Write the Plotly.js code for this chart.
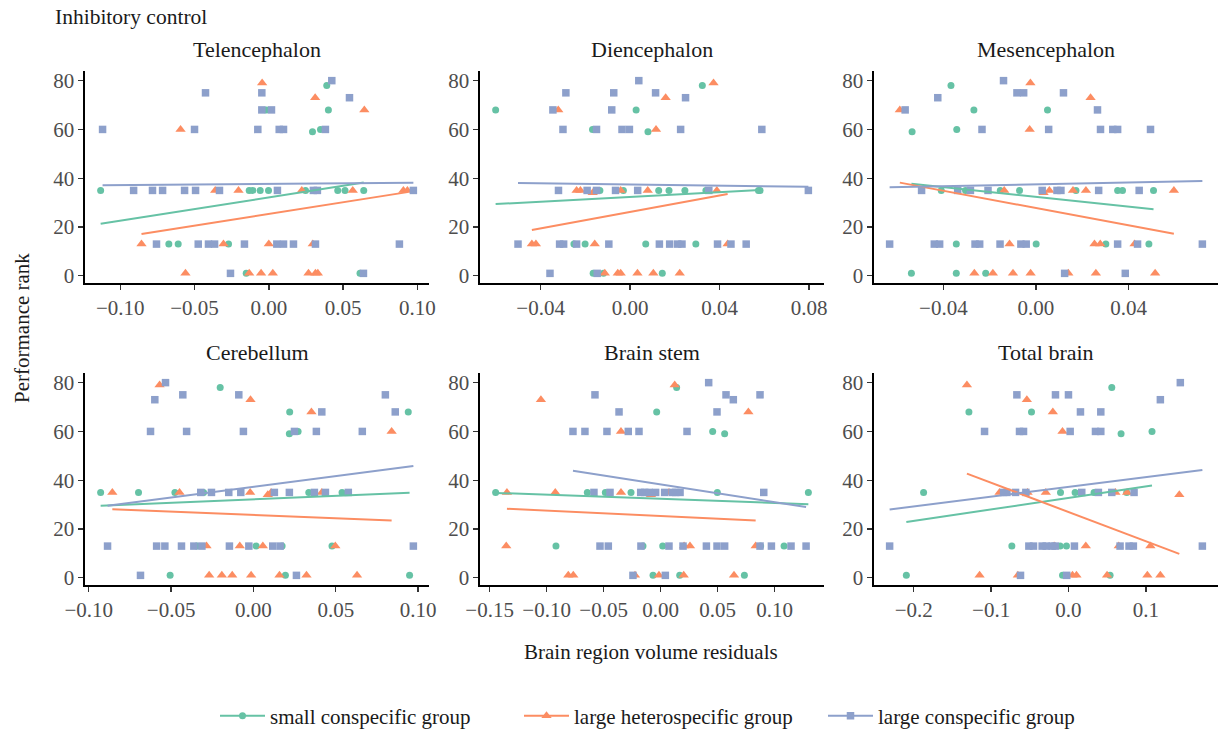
<!DOCTYPE html>
<html>
<head>
<meta charset="utf-8">
<script src="https://cdn.plot.ly/plotly-3.0.1.min.js"></script>
<style>html,body{margin:0;padding:0;background:#fff;}#chart{width:1220px;height:731px;}</style>
</head>
<body>
<div id="chart"></div>
<script>
// ---------------- DATA ----------------
const panelNames = ["Telencephalon", "Diencephalon", "Mesencephalon", "Cerebellum", "Brain stem", "Total brain"];
const groupNames = ["small conspecific group", "large heterospecific group", "large conspecific group"];

// Telencephalon
const tel_small_x = [0.0390, 0.0401, 0.0294, 0.0348, -0.0018, -0.1132, -0.0132, -0.0108, -0.0058, -0.0002, 0.0247, 0.0464, 0.0513, 0.0639, -0.0673, -0.0610, -0.0271, -0.0152, 0.0614];
const tel_small_y = [78, 68, 59, 60, 68, 35, 35, 35, 35, 35, 35, 35, 35, 35, 13, 13, 13, 1, 1];
const tel_het_x = [-0.0045, 0.0312, 0.0643, -0.0594, -0.0361, -0.0204, 0.0222, 0.0565, 0.0906, 0.0933, -0.0857, -0.0305, 0.0000, 0.0296, -0.0561, -0.0132, -0.0052, 0.0027, 0.0267, 0.0314, 0.0330];
const tel_het_y = [79, 73, 68, 60, 35, 35, 35, 35, 35, 35, 13, 13, 13, 13, 1, 1, 1, 1, 1, 1, 1];
const tel_large_x = [-0.1119, -0.0426, -0.0047, -0.0047, 0.0018, -0.0500, -0.0074, 0.0070, 0.0099, 0.0381, 0.0424, 0.0543,
  -0.0910, -0.0783, -0.0715, -0.0567, -0.0493, -0.0332, 0.0058, 0.0300, 0.0327, 0.0973,
  -0.0756, -0.0475, -0.0406, -0.0365, -0.0164, 0.0054, 0.0099, 0.0166, 0.0314, 0.0879,
  -0.0258, 0.0637];
const tel_large_y = [60, 75, 75, 68, 68, 60, 60, 60, 60, 60, 80, 73,
  35, 35, 35, 35, 35, 35, 35, 35, 35, 35,
  13, 13, 13, 13, 13, 13, 13, 13, 13, 13,
  1, 1];
const tel_small_fit_x = [-0.1132, 0.0639], tel_small_fit_y = [21.3, 38.2];
const tel_het_fit_x = [-0.0857, 0.0933], tel_het_fit_y = [17.1, 34.3];
const tel_large_fit_x = [-0.1119, 0.0973], tel_large_fit_y = [37.1, 38.1];

// Diencephalon
const dien_small_x = [0.0323, -0.0601, 0.0027, -0.0168, 0.0080, -0.0135, -0.0030, 0.0128, 0.0174, 0.0245, 0.0339, 0.0574, 0.0581, -0.0251, -0.0201, 0.0070, 0.0294, -0.0165, -0.0119, 0.0144];
const dien_small_y = [78, 68, 68, 60, 59, 35, 35, 35, 35, 35, 35, 35, 35, 13, 13, 13, 13, 1, 1, 1];
const dien_het_x = [0.0373, 0.0159, -0.0321, 0.0116, -0.0239, -0.0222, -0.0167, -0.0042, 0.0079, 0.0388, -0.0439, -0.0421, -0.0158, 0.0436, -0.0113, -0.0055, -0.0042, 0.0033, 0.0104, 0.0222];
const dien_het_y = [79, 73, 68, 60, 35, 35, 34, 35, 35, 35, 13, 13, 13, 13, 1, 1, 1, 1, 1, 1];
const dien_large_x = [0.0039, -0.0287, -0.0073, 0.0114, 0.0248, -0.0345, -0.0082, -0.0300, -0.0150, -0.0036, -0.0003, 0.0226, 0.0589,
  -0.0320, -0.0192, -0.0150, -0.0065, 0.0034, 0.0352, 0.0797,
  -0.0501, -0.0315, -0.0297, -0.0239, -0.0095, 0.0131, 0.0177, 0.0213, 0.0232, 0.0391, 0.0451, 0.0519,
  -0.0358, -0.0147];
const dien_large_y = [80, 75, 75, 75, 73, 68, 68, 60, 60, 60, 60, 60, 60,
  35, 35, 35, 35, 35, 35, 35,
  13, 13, 13, 13, 13, 13, 13, 13, 13, 13, 13, 13,
  1, 1];
const dien_small_fit_x = [-0.0601, 0.0581], dien_small_fit_y = [29.4, 35.2];
const dien_het_fit_x = [-0.0439, 0.0436], dien_het_fit_y = [18.8, 33.5];
const dien_large_fit_x = [-0.0501, 0.0797], dien_large_fit_y = [38.0, 36.5];

// Mesencephalon
const mes_small_x = [-0.0367, -0.0268, 0.0050, -0.0535, -0.0342, -0.0409, -0.0304, -0.0154, -0.0071, 0.0173, 0.0353, 0.0374, 0.0508, -0.0344, 0.0001, 0.0302, 0.0488, -0.0538, -0.0344, -0.0217];
const mes_small_y = [78, 68, 68, 59, 60, 35, 35, 35, 35, 35, 35, 35, 35, 13, 13, 13, 13, 1, 1, 1];
const mes_het_x = [-0.0024, 0.0236, -0.0588, -0.0027, -0.0137, 0.0033, 0.0058, 0.0160, 0.0216, 0.0596, -0.0114, 0.0253, 0.0278, 0.0426, -0.0266, -0.0186, -0.0099, -0.0023, 0.0140, 0.0259, 0.0515];
const mes_het_y = [79, 73, 68, 60, 35, 34, 35, 35, 35, 35, 13, 13, 13, 13, 1, 1, 1, 1, 1, 1, 1];
const mes_large_x = [-0.0140, -0.0424, -0.0082, -0.0053, 0.0119, -0.0565, 0.0266, -0.0233, 0.0055, 0.0279, 0.0332, 0.0353, 0.0495,
  -0.0494, -0.0338, -0.0283, -0.0207, 0.0027, 0.0091, 0.0108, 0.0271, 0.0446,
  -0.0632, -0.0439, -0.0416, -0.0263, -0.0243, -0.0155, -0.0065, -0.0042, 0.0353, 0.0439, 0.0719,
  0.0124, 0.0386];
const mes_large_y = [80, 73, 75, 75, 75, 68, 68, 60, 60, 60, 60, 60, 60,
  35, 35, 35, 35, 35, 35, 35, 35, 35,
  13, 13, 13, 13, 13, 13, 13, 13, 13, 13, 13,
  1, 1];
const mes_small_fit_x = [-0.0538, 0.0508], mes_small_fit_y = [37.7, 27.3];
const mes_het_fit_x = [-0.0588, 0.0596], mes_het_fit_y = [38.2, 17.2];
const mes_large_fit_x = [-0.0632, 0.0719], mes_large_fit_y = [36.3, 38.9];

// Cerebellum
const cer_small_x = [-0.0202, 0.0220, 0.0940, 0.0218, 0.0271, -0.0928, -0.0698, -0.0477, -0.0303, 0.0336, 0.0538, -0.0344, 0.0016, 0.0174, 0.0477, -0.0506, 0.0194, 0.0948];
const cer_small_y = [78, 68, 68, 59, 60, 35, 35, 35, 35, 35, 35, 13, 13, 13, 13, 1, 1, 1];
const cer_het_x = [-0.0570, -0.0018, 0.0352, 0.0839, -0.0857, -0.0449, -0.0020, 0.0087, 0.0107, 0.0415, -0.0285, -0.0083, 0.0057, 0.0497, -0.0269, -0.0192, -0.0129, -0.0014, 0.0158, 0.0322, 0.0629];
const cer_het_y = [79, 73, 68, 60, 35, 35, 35, 34, 35, 35, 13, 13, 13, 13, 1, 1, 1, 1, 1, 1, 1];
const cer_large_x = [-0.0534, -0.0599, -0.0429, -0.0089, 0.0801, 0.0415, 0.0861, -0.0625, -0.0406, -0.0061, 0.0249, 0.0382, 0.0661,
  -0.0320, -0.0255, -0.0150, -0.0077, 0.0127, 0.0218, 0.0370, 0.0437, 0.0576,
  -0.0886, -0.0588, -0.0538, -0.0437, -0.0362, -0.0313, -0.0146, -0.0028, 0.0117, 0.0162, 0.0971,
  -0.0686, 0.0261];
const cer_large_y = [80, 73, 75, 75, 75, 68, 68, 60, 60, 60, 60, 60, 60,
  35, 35, 35, 35, 35, 35, 35, 35, 35,
  13, 13, 13, 13, 13, 13, 13, 13, 13, 13, 13,
  1, 1];
const cer_small_fit_x = [-0.0928, 0.0948], cer_small_fit_y = [29.5, 34.9];
const cer_het_fit_x = [-0.0857, 0.0839], cer_het_fit_y = [28.1, 23.5];
const cer_large_fit_x = [-0.0886, 0.0971], cer_large_fit_y = [29.5, 45.8];

// Brain stem
const stem_small_x = [0.0140, -0.0035, 0.0456, 0.0561, -0.1447, -0.0643, -0.0485, -0.0260, 0.0497, 0.1295, -0.0918, -0.0155, 0.0018, 0.0877, 0.1082, -0.0067, 0.0167, 0.0734];
const stem_small_y = [78, 68, 60, 59, 35, 35, 35, 35, 35, 35, 13, 13, 13, 13, 13, 1, 1, 1];
const stem_het_x = [0.0123, -0.1050, 0.0769, -0.0348, -0.1348, -0.0924, -0.0348, -0.0085, 0.0073, -0.1354, 0.0205, 0.0257, 0.0833, -0.0810, -0.0766, -0.0225, -0.0015, 0.0202, 0.0643];
const stem_het_y = [79, 73, 68, 60, 35, 35, 35, 34, 35, 13, 13, 13, 13, 1, 1, 1, 1, 1, 1];
const stem_large_x = [0.0421, -0.0576, 0.0573, 0.0871, 0.0637, -0.0365, 0.0494, -0.0769, -0.0664, -0.0471, -0.0284, -0.0190, 0.0231,
  -0.0585, -0.0444, -0.0175, -0.0140, -0.0102, -0.0044, 0.0035, 0.0102, 0.0132, 0.0170, 0.0904,
  -0.0532, -0.0459, -0.0173, 0.0073, 0.0196, 0.0401, 0.0494, 0.0561, 0.0871, 0.0971, 0.1143, 0.1275,
  -0.0243, 0.0041];
const stem_large_y = [80, 75, 75, 75, 73, 68, 68, 60, 60, 60, 60, 60, 60,
  35, 35, 35, 35, 35, 35, 35, 35, 35, 35, 35,
  13, 13, 13, 13, 13, 13, 13, 13, 13, 13, 13, 13,
  1, 1];
const stem_small_fit_x = [-0.1447, 0.1295], stem_small_fit_y = [34.8, 30.2];
const stem_het_fit_x = [-0.1348, 0.0833], stem_het_fit_y = [28.3, 23.5];
const stem_large_fit_x = [-0.0769, 0.1275], stem_large_fit_y = [43.9, 29.0];

// Total brain
const tot_small_x = [0.0560, -0.1287, -0.0478, 0.0680, 0.1080, -0.1873, -0.0103, 0.0086, 0.0331, 0.0753, -0.0732, -0.0108, -0.0026, -0.2096, -0.0077, 0.0538];
const tot_small_y = [78, 68, 68, 59, 60, 35, 35, 35, 35, 35, 13, 13, 13, 1, 1, 1];
const tot_het_x = [-0.1313, -0.0538, -0.0202, -0.0077, -0.0891, -0.0529, -0.0293, 0.0607, 0.0758, 0.1433, -0.0185, 0.0224, 0.0650, 0.1059, -0.1149, -0.0654, 0.0052, 0.0103, 0.0499, 0.1020, 0.1188];
const tot_het_y = [79, 73, 68, 60, 35, 35, 35, 35, 35, 34, 13, 13, 13, 13, 1, 1, 1, 1, 1, 1, 1];
const tot_large_x = [0.1446, -0.0667, -0.0168, 0.0000, 0.1188, 0.0155, 0.0418, -0.1085, -0.0633, -0.0581, 0.0022, 0.0349, 0.0418,
  -0.0839, -0.0796, -0.0684, -0.0551, 0.0172, 0.0387, 0.0560, 0.0848,
  -0.2312, -0.0512, -0.0452, -0.0340, -0.0288, -0.0211, -0.0172, 0.0077, 0.0667, 0.0783, 0.0839, 0.1731,
  -0.0620, -0.0022];
const tot_large_y = [80, 75, 75, 75, 73, 68, 68, 60, 60, 60, 60, 60, 60,
  35, 35, 35, 35, 35, 35, 35, 35,
  13, 13, 13, 13, 13, 13, 13, 13, 13, 13, 13, 13,
  1, 1];
const tot_small_fit_x = [-0.2096, 0.1080], tot_small_fit_y = [22.9, 37.8];
const tot_het_fit_x = [-0.1313, 0.1433], tot_het_fit_y = [42.7, 9.8];
const tot_large_fit_x = [-0.2312, 0.1731], tot_large_fit_y = [28.0, 44.2];

// Tick labels per panel
const tel_ticks = [-0.10, -0.05, 0.00, 0.05, 0.10];
const dien_ticks = [-0.04, 0.00, 0.04, 0.08];
const mes_ticks = [-0.04, 0.00, 0.04];
const cer_ticks = [-0.10, -0.05, 0.00, 0.05, 0.10];
const stem_ticks = [-0.15, -0.10, -0.05, 0.00, 0.05, 0.10];
const tot_ticks = [-0.2, -0.1, 0.0, 0.1];
const yTicks = [0, 20, 40, 60, 80];

// ---------------- STYLE ----------------
const colors = ["#66c2a5", "#fc8d62", "#8da0cb"];
const symbols = ["circle", "triangle-up", "square"];
const msizes = [7, 9, 7.5];
const FONT = "'Liberation Serif', 'Times New Roman', 'DejaVu Serif', serif";
const W = 1220, H = 731;

const panels = [
  {pts: [[tel_small_x, tel_small_y], [tel_het_x, tel_het_y], [tel_large_x, tel_large_y]],
   fit: [[tel_small_fit_x, tel_small_fit_y], [tel_het_fit_x, tel_het_fit_y], [tel_large_fit_x, tel_large_fit_y]], ticks: tel_ticks, fmt: 2},
  {pts: [[dien_small_x, dien_small_y], [dien_het_x, dien_het_y], [dien_large_x, dien_large_y]],
   fit: [[dien_small_fit_x, dien_small_fit_y], [dien_het_fit_x, dien_het_fit_y], [dien_large_fit_x, dien_large_fit_y]], ticks: dien_ticks, fmt: 2},
  {pts: [[mes_small_x, mes_small_y], [mes_het_x, mes_het_y], [mes_large_x, mes_large_y]],
   fit: [[mes_small_fit_x, mes_small_fit_y], [mes_het_fit_x, mes_het_fit_y], [mes_large_fit_x, mes_large_fit_y]], ticks: mes_ticks, fmt: 2},
  {pts: [[cer_small_x, cer_small_y], [cer_het_x, cer_het_y], [cer_large_x, cer_large_y]],
   fit: [[cer_small_fit_x, cer_small_fit_y], [cer_het_fit_x, cer_het_fit_y], [cer_large_fit_x, cer_large_fit_y]], ticks: cer_ticks, fmt: 2},
  {pts: [[stem_small_x, stem_small_y], [stem_het_x, stem_het_y], [stem_large_x, stem_large_y]],
   fit: [[stem_small_fit_x, stem_small_fit_y], [stem_het_fit_x, stem_het_fit_y], [stem_large_fit_x, stem_large_fit_y]], ticks: stem_ticks, fmt: 2},
  {pts: [[tot_small_x, tot_small_y], [tot_het_x, tot_het_y], [tot_large_x, tot_large_y]],
   fit: [[tot_small_fit_x, tot_small_fit_y], [tot_het_fit_x, tot_het_fit_y], [tot_large_fit_x, tot_large_fit_y]], ticks: tot_ticks, fmt: 1}
];

// panel pixel boxes [left, right] and [top, bottom]
const colPx = [[85, 429], [480, 824], [874, 1218]];
const rowPx = [[71, 283], [373, 585]];

const traces = [];
const layout = {
  width: W, height: H,
  margin: {l: 0, r: 0, t: 0, b: 0, autoexpand: false},
  paper_bgcolor: "#fff", plot_bgcolor: "#fff",
  font: {family: FONT, color: "#1a1a1a"},
  showlegend: true,
  legend: {orientation: "h", x: 215 / W, xanchor: "left", y: 1 - 716 / H, yanchor: "middle",
           font: {family: FONT, size: 21, color: "#1a1a1a"}, itemwidth: 45, entrywidth: 244, entrywidthmode: "pixels"},
  annotations: [],
  hovermode: false
};

function expand(arr) {
  const mn = Math.min(...arr), mx = Math.max(...arr);
  const d = (mx - mn) * 0.05;
  return [mn - d, mx + d];
}

const allY = [];
panels.forEach(p => p.pts.forEach(g => allY.push(...g[1])));
const yRange = expand(allY);

panels.forEach((p, i) => {
  const sfx = i === 0 ? "" : String(i + 1);
  const col = i % 3, row = Math.floor(i / 3);
  const xs = [];
  p.pts.forEach(g => xs.push(...g[0]));
  p.fit.forEach(f => xs.push(...f[0]));
  const xr = expand(xs);
  const axCommon = {
    showline: true, linecolor: "#000", linewidth: 1.6, mirror: false,
    ticks: "outside", ticklen: 5, tickwidth: 1.4, tickcolor: "#333",
    showgrid: false, zeroline: false, fixedrange: true, automargin: false,
    tickfont: {family: FONT, size: 21, color: "#4d4d4d"}
  };
  layout["xaxis" + sfx] = Object.assign({}, axCommon, {
    domain: [colPx[col][0] / W, colPx[col][1] / W], range: xr, anchor: "y" + sfx,
    tickmode: "array", tickvals: p.ticks, ticktext: p.ticks.map(v => {
      const s = Math.abs(v).toFixed(p.fmt);
      return (v < -1e-9 ? "\u2212" : "") + s;
    })
  });
  layout["yaxis" + sfx] = Object.assign({}, axCommon, {
    domain: [1 - rowPx[row][1] / H, 1 - rowPx[row][0] / H], range: yRange, anchor: "x" + sfx,
    tickmode: "array", tickvals: yTicks, ticktext: yTicks.map(String)
  });
  p.pts.forEach((g, j) => {
    traces.push({
      type: "scatter", mode: "markers", x: g[0], y: g[1], xaxis: "x" + sfx, yaxis: "y" + sfx,
      showlegend: false, name: groupNames[j],
      marker: {color: colors[j], symbol: symbols[j], size: msizes[j], line: {width: 0}}
    });
  });
  p.fit.forEach((f, j) => {
    traces.push({
      type: "scatter", mode: "lines", x: f[0], y: f[1], xaxis: "x" + sfx, yaxis: "y" + sfx,
      showlegend: false, name: groupNames[j],
      line: {color: colors[j], width: 2}
    });
  });
  layout.annotations.push({
    text: panelNames[i], xref: "paper", yref: "paper",
    x: (colPx[col][0] + colPx[col][1]) / 2 / W, y: 1 - (rowPx[row][0] - 21) / H,
    xanchor: "center", yanchor: "middle", showarrow: false,
    font: {family: FONT, size: 22, color: "#1a1a1a"}
  });
});

groupNames.forEach((n, j) => {
  traces.push({
    type: "scatter", mode: "lines+markers", x: [null], y: [null], name: n,
    line: {color: colors[j], width: 2},
    marker: {color: colors[j], symbol: symbols[j], size: msizes[j]},
    showlegend: true
  });
});

layout.annotations.push({
  text: "Inhibitory control", xref: "paper", yref: "paper", x: 53 / W, y: 1 - 17 / H,
  xanchor: "left", yanchor: "middle", showarrow: false, font: {family: FONT, size: 21.5, color: "#1a1a1a"}
});
layout.annotations.push({
  text: "Performance rank", xref: "paper", yref: "paper", x: 22 / W, y: 1 - 328 / H,
  xanchor: "center", yanchor: "middle", textangle: -90, showarrow: false, font: {family: FONT, size: 21, color: "#1a1a1a"}
});
layout.annotations.push({
  text: "Brain region volume residuals", xref: "paper", yref: "paper", x: 651 / W, y: 1 - 652 / H,
  xanchor: "center", yanchor: "middle", showarrow: false, font: {family: FONT, size: 21, color: "#1a1a1a"}
});

Plotly.newPlot("chart", traces, layout, {displayModeBar: false, staticPlot: true});
</script>
</body>
</html>
